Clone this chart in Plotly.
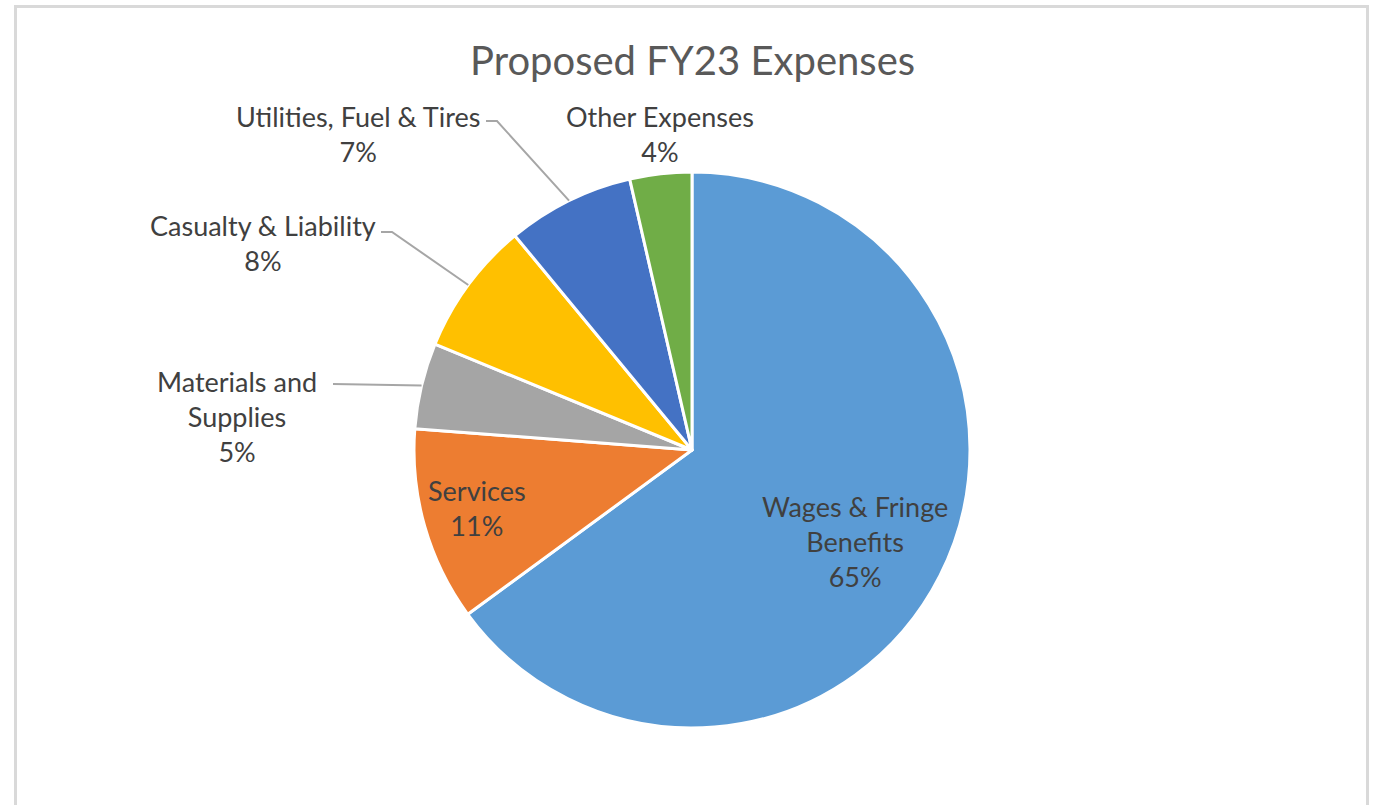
import math
import plotly.graph_objects as go

# ---- data ----
categories = ["Wages & Fringe Benefits", "Services", "Materials and Supplies",
              "Casualty & Liability", "Utilities, Fuel & Tires", "Other Expenses"]
values = [65.0, 11.3, 5.0, 7.8, 7.4, 3.6]
colors = ["#5B9BD5", "#ED7D31", "#A5A5A5", "#FFC000", "#4472C4", "#70AD47"]
label_lines = [["Wages & Fringe", "Benefits"], ["Services"], ["Materials and", "Supplies"],
               ["Casualty & Liability"], ["Utilities, Fuel & Tires"], ["Other Expenses"]]
title = "Proposed FY23 Expenses"

W, H = 1375, 805
CX, CY, R = 692, 450, 278  # pie centre/radius in pixels (layout)

# label placement (layout, pixel centres of text block) and leader-line elbow
label_pos = [(855, 541), (477, 508), (237, 416), (263, 243), (358, 134), (660, 134)]
leader_elbow = [None, None, (418, 383), (392, 232), (497, 121), None]

FONT = "Lato, 'Open Sans', sans-serif"
TXT = "#404040"

fig = go.Figure(go.Pie(
    labels=categories, values=values, sort=False, direction="clockwise", rotation=0,
    marker=dict(colors=colors, line=dict(color="white", width=3)),
    textinfo="none", hoverinfo="label+percent", showlegend=False,
    domain=dict(x=[(CX - R) / W, (CX + R) / W], y=[1 - (CY + R) / H, 1 - (CY - R) / H]),
))

def px(x, y):
    return x / W, 1 - y / H

total = sum(values)
pcts = [round(v / total * 100) for v in values]
annotations = []
shapes = []
cum = 0.0
for i, v in enumerate(values):
    mid = (cum + v / 2) / total * 2 * math.pi
    cum += v
    lines = label_lines[i] + [f"{pcts[i]}%"]
    lx, ly = label_pos[i]
    ax_, ay_ = px(lx, ly)
    annotations.append(dict(
        x=ax_, y=ay_, xref="paper", yref="paper", showarrow=False,
        xanchor="center", yanchor="middle",
        text="<br>".join(lines), align="center",
        font=dict(family=FONT, size=27, color=TXT),
    ))
    if leader_elbow[i] is not None:
        sx = CX + R * math.sin(mid)
        sy = CY - R * math.cos(mid)
        ex, ey = leader_elbow[i]
        if i == 2:
            pts = [(ex - 85, ey + 1), (sx, sy)]
        else:
            pts = [(ex - 11, ey), (ex, ey), (sx, sy)]
        path = "M " + " L ".join(f"{px(a, b)[0]},{px(a, b)[1]}" for a, b in pts)
        shapes.append(dict(type="path", path=path, xref="paper", yref="paper",
                           line=dict(color="#A6A6A6", width=2)))

# title
annotations.append(dict(x=px(692, 60)[0], y=px(692, 60)[1], xref="paper", yref="paper",
                        xanchor="center", yanchor="middle",
                        showarrow=False, text=title,
                        font=dict(family=FONT, size=40, color="#595959")))

# outer chart frame
shapes.append(dict(type="rect", xref="paper", yref="paper",
                   x0=15.5 / W, x1=1367.5 / W, y0=-0.05, y1=1 - 6.5 / H,
                   line=dict(color="#D9D9D9", width=3), fillcolor="rgba(0,0,0,0)"))

fig.update_layout(
    width=W, height=H, margin=dict(l=0, r=0, t=0, b=0),
    paper_bgcolor="white", plot_bgcolor="white",
    annotations=annotations, shapes=shapes,
)
fig.write_html("out.html", config={"displayModeBar": False},
               post_script="document.body.style.margin='0';")
